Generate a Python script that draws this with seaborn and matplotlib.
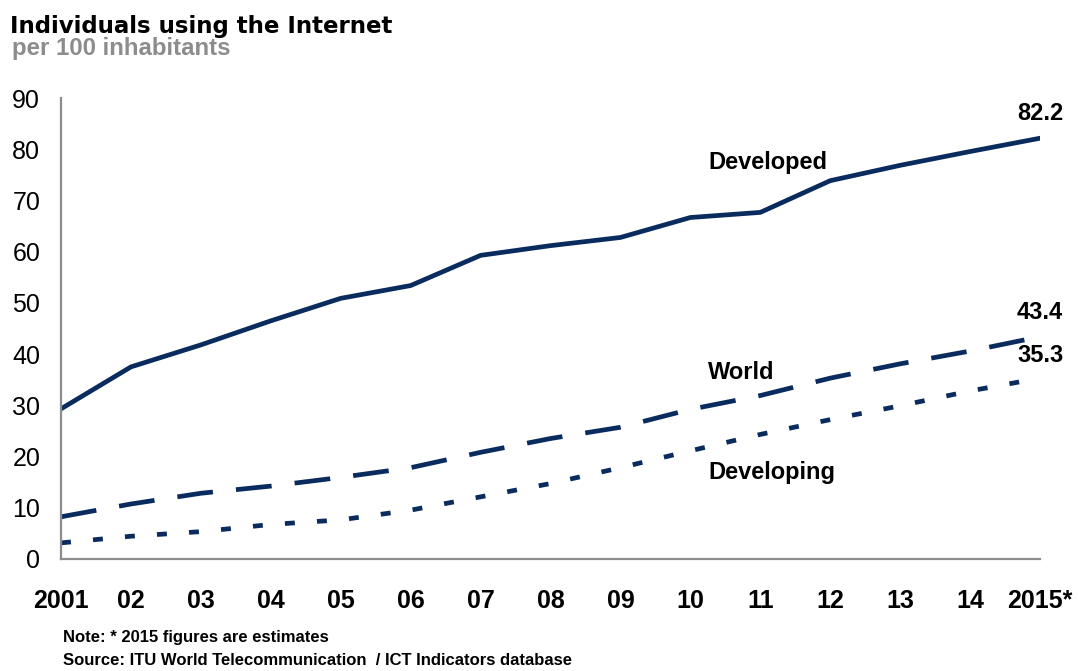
import matplotlib
matplotlib.use('Agg')
import matplotlib.pyplot as plt
import seaborn as sns
import pandas as pd

# Data (per 100 inhabitants)
years = list(range(2001, 2016))
year_labels = ['2001', '02', '03', '04', '05', '06', '07', '08', '09',
               '10', '11', '12', '13', '14', '2015*']
developed = [29.3, 37.5, 41.8, 46.5, 50.9, 53.4, 59.3, 61.2, 62.8,
             66.7, 67.7, 73.9, 76.9, 79.6, 82.2]
world = [8.2, 10.7, 12.8, 14.2, 15.9, 17.8, 20.8, 23.5, 25.7,
         29.2, 31.9, 35.3, 38.1, 40.6, 43.4]
developing = [3.1, 4.4, 5.3, 6.7, 7.6, 9.5, 12.1, 14.7, 17.8,
              21.1, 24.3, 27.2, 29.9, 32.8, 35.3]
series_names = ['Developed', 'World', 'Developing']

navy = '#0a2b5e'
grey = '#8c8c8c'

df = pd.DataFrame({
    'year': years * 3,
    'value': developed + world + developing,
    'series': [s for s in series_names for _ in years],
})

sns.set_style('white')
plt.rcParams['font.family'] = ['Liberation Sans', 'DejaVu Sans']
plt.rcParams['text.color'] = 'black'
plt.rcParams['xtick.labelcolor'] = 'black'
plt.rcParams['ytick.labelcolor'] = 'black'

fig = plt.figure(figsize=(10.78, 6.71), dpi=100)
ax = fig.add_axes([0.0566, 0.1673, 0.9082, 0.6862])

sns.lineplot(data=df, x='year', y='value', hue='series', style='series',
             palette={s: navy for s in series_names},
             dashes={'Developed': '', 'World': (7.6, 4.9), 'Developing': (2.1, 4.7)},
             linewidth=3.4, legend=False, ax=ax)

ax.set_xlim(2001, 2015)
ax.set_ylim(0, 90)
ax.set_yticks(range(0, 91, 10))
ax.set_xticks(years)
ax.set_xticklabels(year_labels, fontweight='bold', fontsize=18)
ax.set_xlabel('')
ax.set_ylabel('')
for lab in ax.get_yticklabels():
    lab.set_fontsize(18)

sns.despine(ax=ax)
for side in ['left', 'bottom']:
    ax.spines[side].set_color(grey)
    ax.spines[side].set_linewidth(1.6)
ax.tick_params(axis='both', direction='in', length=7, width=1.4, color=grey)
ax.tick_params(axis='y', pad=15)
ax.tick_params(axis='x', pad=22)

# series labels
ax.text(2010.25, 77.5, 'Developed', fontsize=17, fontweight='bold', va='center')
ax.text(2010.25, 36.5, 'World', fontsize=17, fontweight='bold', va='center')
ax.text(2010.25, 16.8, 'Developing', fontsize=17, fontweight='bold', va='center')

# end values
for val, ypos in zip([developed[-1], world[-1], developing[-1]], [87.1, 48.2, 39.8]):
    ax.text(2015, ypos, f'{val}', fontsize=17, fontweight='bold',
            ha='center', va='center', clip_on=False)

fig.text(10 / 1078, 1 - 33 / 671, 'Individuals using the Internet', fontsize=16.5,
         fontweight='bold', family='DejaVu Sans', va='baseline')
fig.text(12 / 1078, 1 - 55 / 671, 'per 100 inhabitants', fontsize=17.3,
         fontweight='bold', color=grey, va='baseline')
fig.text(63 / 1078, 1 - 642 / 671, 'Note: * 2015 figures are estimates',
         fontsize=12, fontweight='bold', va='baseline')
fig.text(63 / 1078, 1 - 665 / 671, 'Source: ITU World Telecommunication  / ICT Indicators database',
         fontsize=12, fontweight='bold', va='baseline')

fig.savefig('out.png', dpi=100)
